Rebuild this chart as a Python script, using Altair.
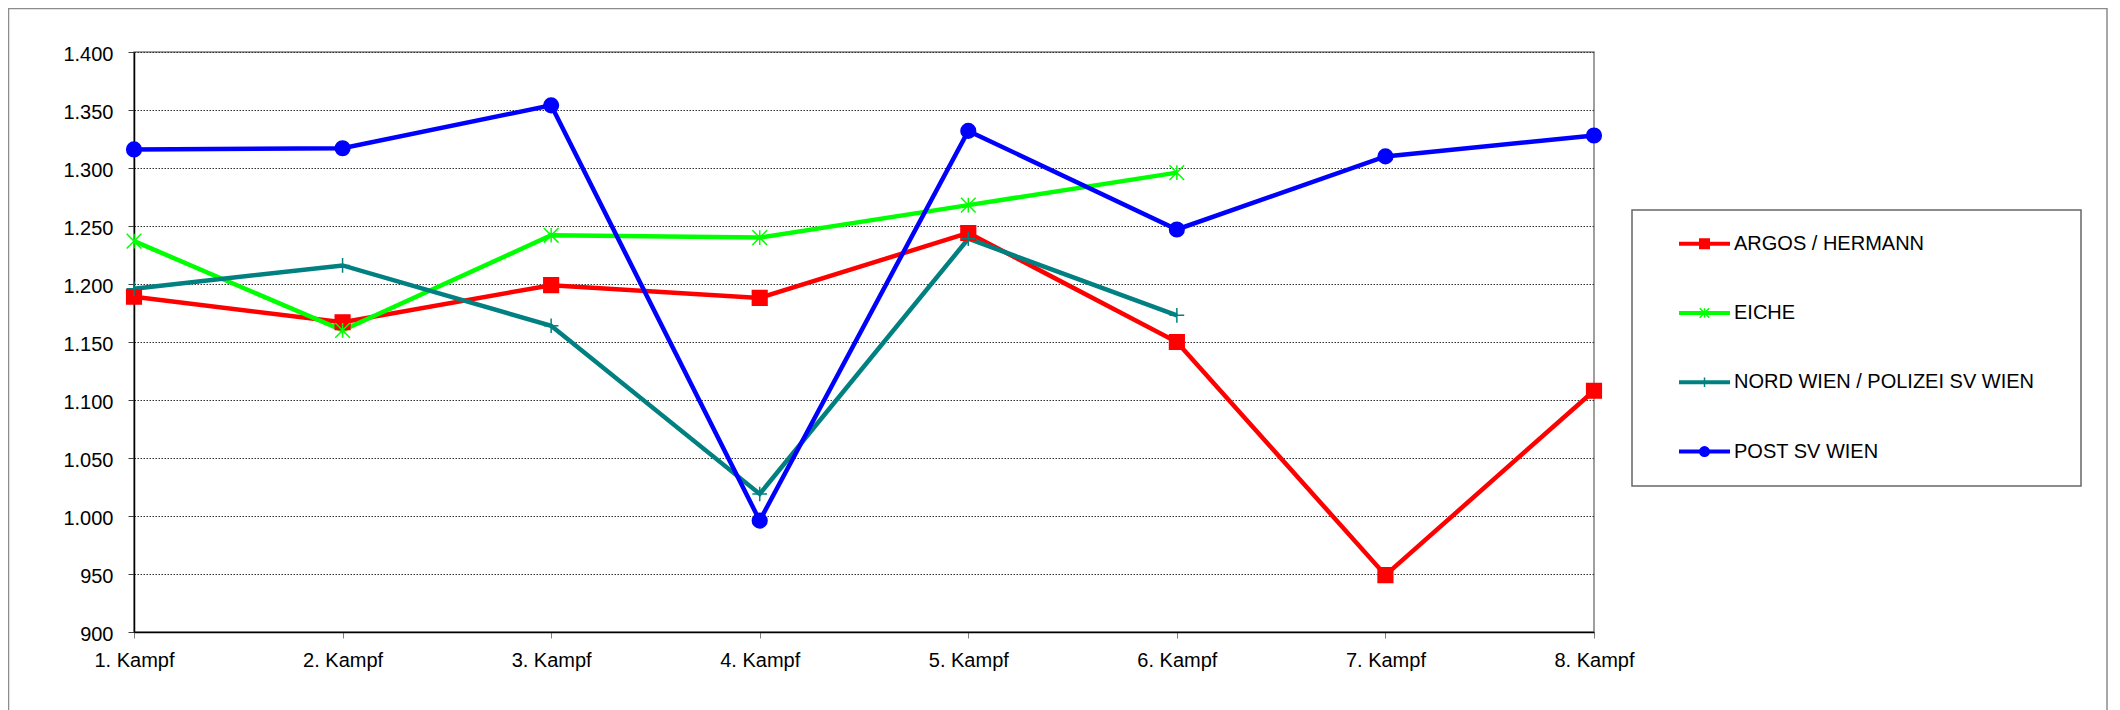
import altair as alt
import pandas as pd

# ---- data ----
kampf = ["1. Kampf", "2. Kampf", "3. Kampf", "4. Kampf",
         "5. Kampf", "6. Kampf", "7. Kampf", "8. Kampf"]
teams = ["ARGOS / HERMANN", "EICHE", "NORD WIEN / POLIZEI SV WIEN", "POST SV WIEN"]
argos = [1189, 1167, 1199, 1188, 1244, 1150, 949, 1108]
eiche = [1237, 1160, 1242, 1240, 1268, 1296, None, None]
nord = [1196, 1216, 1164, 1019, 1239, 1173, None, None]
post = [1316, 1317, 1354, 996, 1332, 1247, 1310, 1328]
y_ticks = [900, 950, 1000, 1050, 1100, 1150, 1200, 1250, 1300, 1350, 1400]

colors = ["#FF0000", "#00FF00", "#008080", "#0000FF"]
shapes = ["square",
          "M-1,-1L1,1M-1,1L1,-1M0,-1L0,1",
          "M-1,0L1,0M0,-1L0,1",
          "circle"]

rows = []
for team, vals in zip(teams, [argos, eiche, nord, post]):
    for k, v in zip(kampf, vals):
        if v is not None:
            rows.append({"Kampf": k, "Wert": v, "Team": team, "Team2": team})
df = pd.DataFrame(rows)

FONT = "Liberation Sans"

x_enc = alt.X("Kampf:N", sort=kampf,
              scale=alt.Scale(type="point", padding=0),
              axis=alt.Axis(title=None, labelAngle=0, labelFontSize=20, labelFont=FONT,
                            labelColor="black", labelPadding=12, tickSize=6,
                            tickColor="#808080", domainColor="black", domainWidth=1.5,
                            grid=False))
y_enc = alt.Y("Wert:Q",
              scale=alt.Scale(domain=[900, 1400], nice=False, zero=False),
              axis=alt.Axis(title=None, values=y_ticks,
                            labelExpr="replace(format(datum.value, ','), ',', '.')",
                            labelFontSize=20, labelFont=FONT, labelColor="black",
                            labelPadding=15, labelOffset=2, tickSize=6, tickColor="#404040",
                            domainColor="black", domainWidth=1.5,
                            grid=True, gridColor="#303030", gridDash=[1.5, 1.5],
                            gridWidth=1))

LX, LY = 1543, 181.7

line_legend = alt.Legend(orient="none", legendX=LX, legendY=LY, title=None,
                         direction="vertical", symbolType="stroke", symbolSize=2601,
                         symbolStrokeWidth=4, labelOffset=2, labelFontSize=20,
                         labelFont=FONT, labelColor="black", labelLimit=600,
                         clipHeight=20, rowPadding=49.3, padding=0)

marker_legend = alt.Legend(orient="none", legendX=LX, legendY=LY, title=None,
                           direction="vertical", symbolOffset=17.5, symbolSize=90,
                           symbolStrokeWidth=1.5, labelExpr="''", labelFontSize=20,
                           labelFont=FONT, labelLimit=600, clipHeight=20,
                           rowPadding=49.3, padding=0)

lines = alt.Chart(df).mark_line(strokeWidth=4.5).encode(
    x=x_enc, y=y_enc,
    color=alt.Color("Team:N", scale=alt.Scale(domain=teams, range=colors),
                    legend=line_legend),
)

points = alt.Chart(df).mark_point(filled=True, size=215, strokeWidth=1.5, opacity=1).encode(
    x=x_enc, y=y_enc,
    fill=alt.Fill("Team2:N", scale=alt.Scale(range=colors), legend=marker_legend),
    stroke=alt.Stroke("Team2:N", scale=alt.Scale(range=colors), legend=marker_legend),
    shape=alt.Shape("Team2:N", scale=alt.Scale(range=shapes), legend=marker_legend),
)

one = pd.DataFrame({"k": [0]})
outer_border = alt.Chart(one).mark_rect(fillOpacity=0, stroke="#8c8c8c", strokeWidth=1.5).encode(
    x=alt.value(-125.5), x2=alt.value(1973), y=alt.value(-43.5), y2=alt.value(668))
legend_box = alt.Chart(one).mark_rect(fillOpacity=0, stroke="#666666", strokeWidth=1.5).encode(
    x=alt.value(1498), x2=alt.value(1947), y=alt.value(158), y2=alt.value(434))

chart = alt.layer(outer_border, legend_box, lines, points).properties(
    width=1460, height=580,
    autosize=alt.AutoSizeParams(type="none"),
    padding={"left": 126, "top": 44, "right": 518, "bottom": 78},
).configure(font=FONT).configure_view(stroke="#808080", strokeWidth=1.5)

chart.save("out.html", embed_options={"renderer": "svg", "actions": False})
